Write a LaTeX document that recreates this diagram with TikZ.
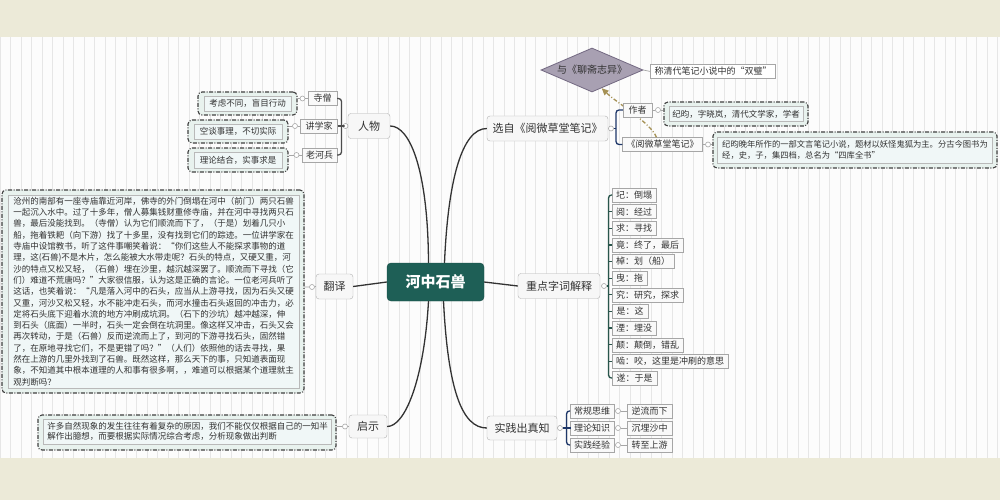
\documentclass[tikz,border=0pt]{standalone}
\usepackage{fontspec}
\setmainfont{Noto Sans CJK SC}
\usetikzlibrary{shapes.geometric,arrows.meta,calc}
\definecolor{beige}{RGB}{236,234,216}
\definecolor{gridc}{RGB}{230,230,230}
\definecolor{teal0}{RGB}{30,95,86}
\definecolor{olivec}{RGB}{165,145,85}
\definecolor{diaf}{RGB}{168,160,178}
\definecolor{diad}{RGB}{115,105,130}
\definecolor{leafbg}{RGB}{232,242,238}
\definecolor{txt}{RGB}{50,50,50}
\definecolor{navy}{RGB}{30,55,105}
\definecolor{dkgreen}{RGB}{40,85,75}
\begin{document}
\begin{tikzpicture}[x=1pt,y=-1pt,
 every node/.style={text=txt},
 mainnode/.style={rectangle, rounded corners=4pt, fill=teal0, draw=teal0!80!black, text=white, font=\fontsize{15}{18}\selectfont\bfseries, minimum width=97pt, minimum height=38pt},
 branch/.style={rectangle, rounded corners=3pt, draw=gray!60, fill=gray!6, font=\fontsize{11}{13}\selectfont, minimum height=25pt, inner xsep=0pt},
 sub/.style={rectangle, draw=gray!70, fill=gray!5, font=\fontsize{9}{10}\selectfont, minimum height=14pt, inner xsep=4pt, inner ysep=0pt},
 lout/.style={rectangle, rounded corners=4pt, draw=black!75, line width=1.1pt, dash pattern=on 4pt off 1.5pt on 1pt off 1.5pt, fill=leafbg},
 lin/.style={rectangle, draw=gray!55, fill=white!94!teal, font=\fontsize{8.5}{10}\selectfont, inner sep=0pt},
 dot/.style={circle, draw=gray!70, fill=white, inner sep=0pt, minimum size=5pt, line width=0.6pt},
 link/.style={draw=black!80, line width=1.3pt},
 br/.style={line width=1.3pt, rounded corners=3pt},
 thinl/.style={draw=gray!70, line width=0.7pt}
]
\useasboundingbox (0,0) rectangle (1000,500);
% background
\fill[beige] (0,0) rectangle (1000,500);
\fill[white!98!gray] (0,37) rectangle (1000,458);
\draw[gridc, line width=0.7pt, step=10.5] (0,37) grid (1000,458);

% centre and branches
\node[mainnode] (ctr) at (435.5,282) {河中石兽};
\node[branch, minimum width=42pt] (rw) at (369,126) {人物};
\node[branch, minimum width=121pt] (xz) at (547.5,128.5) {选自《阅微草堂笔记》};
\node[branch, minimum width=37pt] (fy) at (334.5,286.5) {翻译};
\node[branch, minimum width=82pt] (zd) at (559,286) {重点字词解释};
\node[branch, minimum width=38pt, minimum height=23pt] (qs) at (368,426.5) {启示};
\node[branch, minimum width=70pt, minimum height=24pt] (sj) at (522,428) {实践出真知};

\draw[link] ([xshift=-7pt]ctr.north) .. controls (428,170) and (410,126) .. (rw.east);
\draw[link] ([xshift=9pt]ctr.north) .. controls (448,180) and (462,128.5) .. (xz.west);
\draw[link] ([xshift=-7pt]ctr.south) .. controls (424,380) and (405,426.5) .. (qs.east);
\draw[link] ([xshift=8pt]ctr.south) .. controls (448,390) and (462,428) .. (sj.west);
\draw[link] (ctr.west) -- (fy.east);
\draw[link] (ctr.east) -- (zd.west);

% 人物
\node[dot] (rwd) at (345.5,126) {};
\coordinate (rwb) at (341.5,126);
\node[sub, minimum width=29pt] (c1) at (322.5,98.5) {寺僧};
\node[sub, minimum width=37pt] (c2) at (319,126) {讲学家};
\node[sub, minimum width=35pt] (c3) at (319.5,155) {老河兵};
\draw[br, draw=black!70] (c1.east) -| (rwb) |- (c3.east);
\draw[br, draw=black!70] (c2.east) -- (rwb) -- (rwd.west);

\node[lout, minimum width=99pt, minimum height=23pt] (l1o) at (247.5,103.5) {};
\node[lin, minimum width=87pt, minimum height=15pt] (l1) at (247.5,103.5) {考虑不同，盲目行动};
\node[lout, minimum width=100pt, minimum height=23pt] (l2o) at (238,131.5) {};
\node[lin, minimum width=88pt, minimum height=15pt] (l2) at (238,131.5) {空谈事理，不切实际};
\node[lout, minimum width=100pt, minimum height=24pt] (l3o) at (238,160) {};
\node[lin, minimum width=88pt, minimum height=16pt] (l3) at (238,160) {理论结合，实事求是};
\node[dot] (c1d) at (302.5,98.5) {};
\node[dot] (c2d) at (295,126) {};
\node[dot] (c3d) at (296.5,155) {};
\draw[thinl] (c1.west) -- (c1d) -- (l1o.east |- c1d);
\draw[thinl] (c2.west) -- (c2d) -- (l2o.east |- c2d);
\draw[thinl] (c3.west) -- (c3d) -- (l3o.east |- c3d);

% 翻译
\node[lout, minimum width=302pt, minimum height=203pt] (tro) at (153,291.5) {};
\node[lin, minimum width=291pt, minimum height=193pt, align=left, font=\fontsize{8.5}{11.3}\selectfont] (tr) at (153.5,291.5) {%
沧州的南部有一座寺庙靠近河岸，佛寺的外门倒塌在河中（前门）两只石兽\\
一起沉入水中。过了十多年，僧人募集钱财重修寺庙，并在河中寻找两只石\\
兽，最后没能找到。（寺僧）认为它们顺流而下了，（于是）划着几只小\\
船，拖着铁耙（向下游）找了十多里，没有找到它们的踪迹。一位讲学家在\\
寺庙中设馆教书，听了这件事嘲笑着说：“你们这些人不能探求事物的道\\
理，这(石兽)不是木片，怎么能被大水带走呢？石头的特点，又硬又重，河\\
沙的特点又松又轻，（石兽）埋在沙里，越沉越深罢了。顺流而下寻找（它\\
们）难道不荒唐吗？”大家很信服，认为这是正确的言论。一位老河兵听了\\
这话，也笑着说：“凡是落入河中的石头，应当从上游寻找，因为石头又硬\\
又重，河沙又松又轻，水不能冲走石头，而河水撞击石头返回的冲击力，必\\
定将石头底下迎着水流的地方冲刷成坑洞。（石下的沙坑）越冲越深，伸\\
到石头（底面）一半时，石头一定会倒在坑洞里。像这样又冲击，石头又会\\
再次转动，于是（石兽）反而逆流而上了，到河的下游寻找石头，固然错\\
了，在原地寻找它们，不是更错了吗？”（人们）依照他的话去寻找，果\\
然在上游的几里外找到了石兽。既然这样，那么天下的事，只知道表面现\\
象，不知道其中根本道理的人和事有很多啊，，难道可以根据某个道理就主\\
观判断吗？};
\node[dot] (fyd) at (312,287) {};
\draw[thinl] (fy.west) -- (fyd) -- (tro.east |- fyd);

% 启示
\node[lout, minimum width=298pt, minimum height=35pt] (qso) at (187,432.5) {};
\node[lin, minimum width=288pt, minimum height=25pt, align=left, font=\fontsize{8.5}{10.5}\selectfont] (qsl) at (187.5,431.5) {许多自然现象的发生往往有着复杂的原因，我们不能仅仅根据自己的一知半\\解作出臆想，而要根据实际情况综合考虑，分析现象做出判断};
\node[dot] (qsd) at (345,426.5) {};
\draw[thinl] (qs.west) -- (qsd) -- (qso.east |- qsd);

% 选自
\node[dot] (xzd) at (611,128.5) {};
\coordinate (xzb) at (616,128.5);
\node[sub, minimum width=79pt] (yw) at (662.5,144.5) {《阅微草堂笔记》};
\node[diamond, aspect=2.3, draw=diad, fill=diaf, line width=0.8pt, minimum width=102pt, minimum height=44pt, inner sep=0pt, font=\fontsize{10}{12}\selectfont] (dia) at (592,70) {与《聊斋志异》};
\node[sub, fill=white, minimum width=120pt] (sb) at (713,71.5) {称清代笔记小说中的“双璧”};
\draw[thinl] (dia.east) -- (sb.west);
\draw[olivec, line width=1.3pt, dash pattern=on 4pt off 2pt on 1pt off 2pt, -{Triangle[length=7pt,width=6pt]}] ([xshift=-6pt]yw.north) .. controls (650,122) and (618,104) .. (dia.-62);
\node[sub, minimum width=29pt] (zz) at (637.5,110) {作者};
\draw[br, navy] (zz.west) -| (xzb) |- (yw.west);
\draw[br, navy] (xzb) -- (xzd.east);

\node[dot] (zzd) at (658,110) {};
\node[lout, minimum width=144pt, minimum height=24pt] (l4o) at (736,114) {};
\node[lin, minimum width=134pt, minimum height=15pt] (l4) at (736,114) {纪昀，字晓岚，清代文学家，学者};
\draw[thinl] (zz.east) -- (zzd) -- (l4o.west |- zzd);

\node[dot] (ywd) at (708,144.5) {};
\node[lout, minimum width=284pt, minimum height=36pt] (l5o) at (855,150) {};
\node[lin, minimum width=275pt, minimum height=26pt, align=left, font=\fontsize{8.3}{11}\selectfont] (l5) at (855,150) {纪昀晚年所作的一部文言笔记小说，题材以妖怪鬼狐为主。分古今图书为\\经，史，子，集四档，总名为“四库全书”};
\draw[thinl] (yw.east) -- (ywd) -- (l5o.west |- ywd);

% 重点字词解释
\node[dot] (zdd) at (604,286) {};
\coordinate (zdb) at (608.5,286);
\foreach \t/\w [count=\i] in {圮：倒塌/43, 阅：经过/43, 求：寻找/43, 竟：终了，最后/70, 棹：划（船）/49, 曳：拖/35, 究：研究，探求/71, 是：这/36, 湮：埋没/36, 颠：颠倒，错乱/71, 啮：咬，这里是冲刷的意思/115, 遂：于是/45}
  \node[sub, anchor=west, minimum width=\w pt] (k\i) at (612,{195+(\i-1)*16.64}) {\t};
\draw[br, dkgreen] (k1.west) -| (zdb) |- (k12.west);
\foreach \i in {2,...,11} \draw[dkgreen, line width=1.3pt] (k\i.west) -- (zdb |- k\i.west);
\draw[br, dkgreen] (zdb) -- (zdd.east);

% 实践出真知
\node[dot] (sjd) at (560,428) {};
\coordinate (sjb) at (566.5,428);
\node[sub, anchor=west, minimum width=43pt] (p1) at (570,411) {常规思维};
\node[sub, anchor=west, minimum width=43pt] (p2) at (570,428) {理论知识};
\node[sub, anchor=west, minimum width=43pt] (p3) at (570,445) {实践经验};
\draw[br, navy] (p1.west) -| (sjb) |- (p3.west);
\draw[br, navy] (p2.west) -- (sjb) -- (sjd.east);
\node[dot] (p1d) at (618,411) {};
\node[dot] (p2d) at (618,428) {};
\node[dot] (p3d) at (618,445) {};
\node[sub, anchor=west, minimum width=45pt] (q1) at (627,411) {逆流而下};
\node[sub, anchor=west, minimum width=45pt] (q2) at (627,428) {沉埋沙中};
\node[sub, anchor=west, minimum width=45pt] (q3) at (627,445) {转至上游};
\draw[thinl] (p1.east) -- (p1d) -- (q1.west);
\draw[thinl] (p2.east) -- (p2d) -- (q2.west);
\draw[thinl] (p3.east) -- (p3d) -- (q3.west);
\end{tikzpicture}
\end{document}
